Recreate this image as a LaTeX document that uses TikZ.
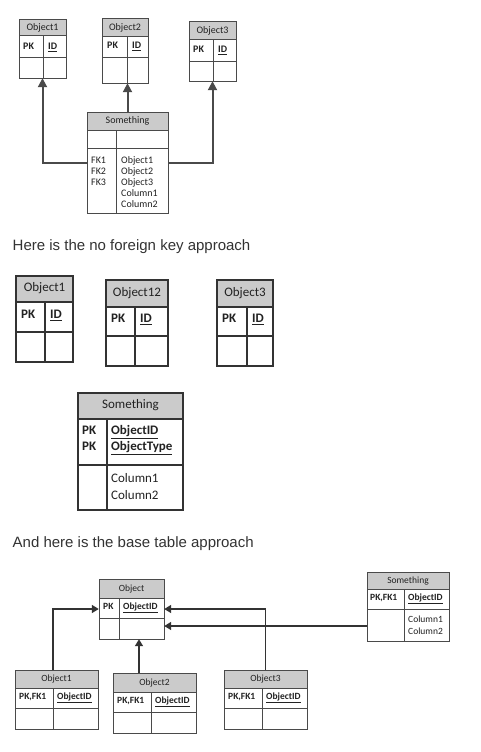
\documentclass[tikz,border=0pt]{standalone}
\usepackage{fontspec}
\setmainfont{Carlito}
\newfontfamily\bodyfont{Liberation Sans}
\usetikzlibrary{fit,arrows.meta}
\definecolor{txt}{HTML}{222222}
\definecolor{bodytxt}{HTML}{333333}
\definecolor{hdr}{HTML}{CBCBCB}
\definecolor{lin}{HTML}{4A4A4A}
\newcommand{\dbtab}[9]{%
  \fill[hdrfill] (#2,#3) rectangle (#4,#6);
  \draw[tabline] (#2,#3) rectangle (#4,#5);
  \draw[tabline] (#2,#6) -- (#4,#6) (#2,#7) -- (#4,#7) (#8,#6) -- (#8,#5);
  \node[inner sep=0pt, fit={(#2,#3) (#4,#5)}] (#1) {};
  \node[ttl] (#1-t) at ({(#2+#4)/2},{(#3+#6)/2}) {#9};
}
\tikzset{
  hdrfill/.style={fill=hdr},
  tabline/.style={draw=lin, line width=1pt},
  ttl/.style={inner sep=0pt, text=txt, text height=0.7em, text depth=0.2em},
  cell/.style={anchor=west, inner sep=0pt, text=txt, text height=0.7em, text depth=0.2em},
  bcell/.style={cell, execute at begin node=\bfseries},
  conna/.style={draw=lin, line width=2pt, -{Triangle[length=9pt,width=9pt]}},
  connc/.style={draw=black!80, line width=1.4pt, -{Triangle[length=7pt,width=8pt]}},
  bodytext/.style={anchor=base west, inner sep=0pt, text=bodytxt, font=\bodyfont\fontsize{15}{18}\selectfont}
}
\begin{document}
\begin{tikzpicture}[x=1pt,y=-1pt]
\useasboundingbox[fill=white] (0,0) rectangle (481,752);
% ---------- Figure 1 ----------
\begin{scope}[font=\fontsize{10}{12}\selectfont]
\dbtab{o1}{19}{20}{66}{78}{36}{58}{43}{Object1}
\node[bcell] (o1pk) at (23,47) {PK};
\node[bcell] (o1id) at (48,47) {\underline{ID}};
\dbtab{o2}{102}{19}{148}{83}{37}{58}{127}{Object2}
\node[bcell] (o2pk) at (107,46) {PK};
\node[bcell] (o2id) at (132,46) {\underline{ID}};
\dbtab{o3}{189}{22}{236}{81}{40}{62}{213}{Object3}
\node[bcell] (o3pk) at (193,50) {PK};
\node[bcell] (o3id) at (218,50) {\underline{ID}};
\dbtab{s1}{87}{112}{168}{213}{130}{148}{116}{Something}
\node[cell] (s1f1) at (91,161) {FK1};
\node[cell] (s1f2) at (91,172) {FK2};
\node[cell] (s1f3) at (91,183) {FK3};
\node[cell] (s1c1) at (121,161) {Object1};
\node[cell] (s1c2) at (121,172) {Object2};
\node[cell] (s1c3) at (121,183) {Object3};
\node[cell] (s1c4) at (121,194) {Column1};
\node[cell] (s1c5) at (121,205) {Column2};
\end{scope}
\draw[conna] (s1.west) -| (o1.south);
\draw[conna] (s1.north) -- (s1.north |- o2.south);
\draw[conna] (s1.east) -| (o3.south);
% ---------- Text 1 ----------
\node[bodytext] (t1) at (12.5,250.5) {Here is the no foreign key approach};
% ---------- Figure 2 ----------
\begin{scope}[font=\fontsize{13}{15}\selectfont, tabline/.style={draw=black!80, line width=1.15pt}]
\dbtab{n1}{16}{276}{73}{362}{302}{332}{45}{Object1}
\node[bcell] (n1pk) at (21,316) {PK};
\node[bcell] (n1id) at (50,316) {\underline{ID}};
\dbtab{n2}{106}{280}{168}{366}{307}{336}{135}{Object12}
\node[bcell] (n2pk) at (111,320) {PK};
\node[bcell] (n2id) at (140,320) {\underline{ID}};
\dbtab{n3}{217}{280}{273}{366}{307}{336}{247}{Object3}
\node[bcell] (n3pk) at (222,320) {PK};
\node[bcell] (n3id) at (252,320) {\underline{ID}};
\dbtab{ns}{78}{393}{183}{510}{419}{465}{107}{Something}
\node[bcell] (nspk1) at (82,432) {PK};
\node[bcell] (nspk2) at (82,448) {PK};
\node[bcell] (nsid) at (111,432) {\underline{ObjectID}};
\node[bcell] (nsty) at (111,448) {\underline{ObjectType}};
\node[cell] (nsc1) at (111,480) {Column1};
\node[cell] (nsc2) at (111,497) {Column2};
\end{scope}
% ---------- Text 2 ----------
\node[bodytext] (t2) at (12.5,547.3) {And here is the base table approach};
% ---------- Figure 3 ----------
\begin{scope}[font=\fontsize{9.5}{11}\selectfont]
\dbtab{b0}{99}{579}{164}{639}{598}{618}{119}{Object}
\node[bcell] (b0pk) at (103,607) {PK};
\node[bcell] (b0id) at (123,607) {\underline{ObjectID}};
\dbtab{b1}{15}{670}{98}{729}{688}{708}{53}{Object1}
\node[bcell] (b1pk) at (19,697) {PK,FK1};
\node[bcell] (b1id) at (57,697) {\underline{ObjectID}};
\dbtab{b2}{113}{673}{196}{733}{692}{712}{151}{Object2}
\node[bcell] (b2pk) at (117,701) {PK,FK1};
\node[bcell] (b2id) at (155,701) {\underline{ObjectID}};
\dbtab{b3}{224}{670}{307}{729}{688}{708}{262}{Object3}
\node[bcell] (b3pk) at (228,697) {PK,FK1};
\node[bcell] (b3id) at (266,697) {\underline{ObjectID}};
\dbtab{bs}{367}{572}{449}{641}{589}{609}{404}{Something}
\node[bcell] (bspk) at (370,598) {PK,FK1};
\node[bcell] (bsid) at (408,598) {\underline{ObjectID}};
\node[cell] (bsc1) at (408,620) {Column1};
\node[cell] (bsc2) at (408,632) {Column2};
\end{scope}
\coordinate (b1j) at (53,670);
\coordinate (b2j) at (139,673);
\coordinate (bsj) at (367,626);
\draw[connc] (b1j) |- (b0.west);
\draw[connc] (b2j) -- (b2j |- b0.south);
\draw[connc] (b3.north) |- (b0.east);
\draw[connc] (bsj) -- (bsj -| b0.east);
\end{tikzpicture}
\end{document}
